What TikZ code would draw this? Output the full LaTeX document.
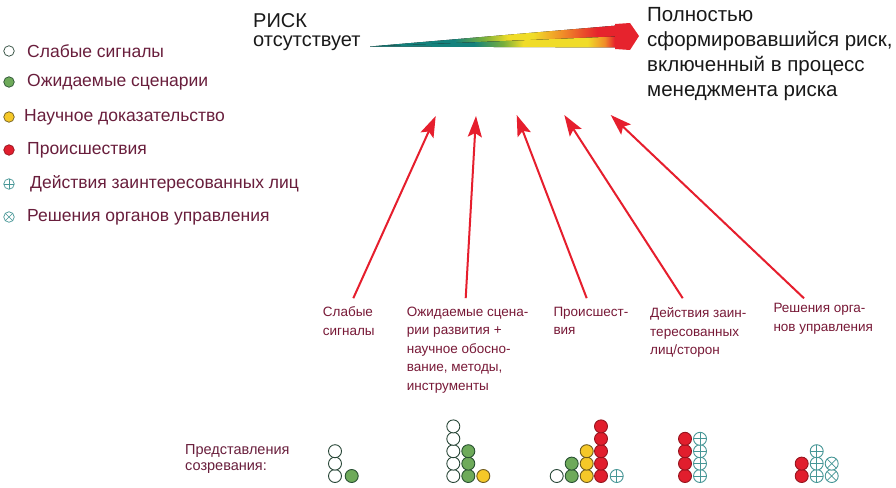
\documentclass[tikz,border=0pt]{standalone}
\usepackage{fontspec}
\setmainfont{Liberation Sans}
\usetikzlibrary{arrows.meta}

\definecolor{legtext}{RGB}{105,30,60}
\definecolor{labtext}{RGB}{120,25,55}
\definecolor{toptext}{RGB}{25,25,25}
\definecolor{riskred}{RGB}{230,30,45}
\definecolor{tealrim}{RGB}{70,150,150}
\definecolor{grnfill}{RGB}{110,170,90}
\definecolor{grnrim}{RGB}{40,80,50}
\definecolor{yelfill}{RGB}{245,200,40}
\definecolor{yelrim}{RGB}{110,90,30}
\definecolor{redfill}{RGB}{225,30,45}
\definecolor{redrim}{RGB}{150,20,30}
\definecolor{whtrim}{RGB}{40,70,55}
\definecolor{fteal}{RGB}{20,130,125}
\definecolor{fgreen}{RGB}{120,175,60}
\definecolor{fyellow}{RGB}{240,220,40}
\definecolor{forange}{RGB}{240,140,40}
\definecolor{fred}{RGB}{230,35,45}

\pgfdeclarehorizontalshading{riskfadetop}{100bp}{color(0bp)=(fteal); color(25bp)=(fteal); color(42bp)=(fteal); color(48bp)=(fgreen); color(53bp)=(fyellow); color(58bp)=(fyellow); color(64bp)=(forange); color(71bp)=(fred); color(75bp)=(fred); color(100bp)=(fred)}
\pgfdeclarehorizontalshading{riskfadelow}{100bp}{color(0bp)=(fteal); color(25bp)=(fteal); color(46bp)=(fteal); color(52bp)=(fgreen); color(56bp)=(fyellow); color(69bp)=(fyellow); color(72.5bp)=(forange); color(74.5bp)=(fred); color(100bp)=(fred)}

\begin{document}
\begin{tikzpicture}[
    x=1pt, y=-1pt,
    legtxt/.style={
        anchor=west,
        inner sep=0pt,
        text=legtext,
        font=\fontsize{17.5}{20}\selectfont
    },
    labtxt/.style={
        anchor=north west,
        inner sep=0pt,
        align=left,
        text=labtext,
        font=\fontsize{13.5}{18.5}\selectfont
    },
    dot/.style={
        circle,
        inner sep=0pt,
        minimum size=13pt,
        line width=0.9pt
    },
    wdot/.style={dot, draw=whtrim, fill=white},
    gdot/.style={dot, draw=grnrim, fill=grnfill},
    ydot/.style={dot, draw=yelrim, fill=yelfill},
    rdot/.style={dot, draw=redrim, fill=redfill},
    pdot/.style={
        dot, draw=tealrim, fill=white,
        path picture={
            \draw[tealrim, line width=0.7pt]
                (path picture bounding box.north) -- (path picture bounding box.south)
                (path picture bounding box.west) -- (path picture bounding box.east);
        }
    },
    xdot/.style={
        dot, draw=tealrim, fill=white,
        path picture={
            \draw[tealrim, line width=0.7pt]
                (path picture bounding box.north west) -- (path picture bounding box.south east)
                (path picture bounding box.north east) -- (path picture bounding box.south west);
        }
    },
    legdot/.style={minimum size=10.5pt, line width=0.7pt},
    feed/.style={
        draw=riskred,
        line width=2pt,
        -{Stealth[length=21pt, width=14pt, inset=4pt]}
    }
]

\fill[white] (0,0) rectangle (896,487);
\useasboundingbox (0,0) rectangle (896,487);

% Legend
\node[wdot, legdot] (leg_weak) at (9,51) {};
\node[legtxt] (leg_weak_t) at (27,51) {Слабые сигналы};
\node[gdot, legdot] (leg_scen) at (9,82) {};
\node[legtxt] (leg_scen_t) at (27,82) {Ожидаемые сценарии};
\node[ydot, legdot] (leg_sci) at (9,117) {};
\node[legtxt] (leg_sci_t) at (24,117) {Научное доказательство};
\node[rdot, legdot] (leg_inc) at (9,150) {};
\node[legtxt] (leg_inc_t) at (27,150) {Происшествия};
\node[pdot, legdot] (leg_act) at (9,184) {};
\node[legtxt] (leg_act_t) at (30,184) {Действия заинтересованных лиц};
\node[xdot, legdot] (leg_dec) at (9,217) {};
\node[legtxt] (leg_dec_t) at (27,217) {Решения органов управления};

% Risk maturity bar
\node[anchor=north west, inner sep=0pt, align=left, text=toptext,
      font=\fontsize{20}{18.5}\selectfont] (risk_none) at (253,13.8) {РИСК\\отсутствует};
\fill[shading=riskfadetop] (370,46.5) -- (617,25.5) -- (617,36.5) -- cycle;
\fill[shading=riskfadelow] (370,46.5) -- (617,36.5) -- (617,47.5) -- cycle;
\fill[fred] (615,24) -- (630,23) -- (639,36) -- (630,50) -- (615,49) -- cycle;
\node[anchor=north west, inner sep=0pt, align=left, text=toptext,
      font=\fontsize{20.5}{25}\selectfont] (risk_full) at (647,7) {Полностью\\сформировавшийся риск,\\включенный в процесс\\менеджмента риска};

% Input labels
\node[labtxt] (lab_weak) at (322.7,306.7) {Слабые\\сигналы};
\node[labtxt] (lab_scen) at (406.7,306.7) {Ожидаемые сцена-\\рии развития +\\научное обосно-\\вание, методы,\\инструменты};
\node[labtxt] (lab_inc) at (553.3,306.7) {Происшест-\\вия};
\node[labtxt] (lab_act) at (650,307.5) {Действия заин-\\тересованных\\лиц/сторон};
\node[labtxt] (lab_dec) at (773.3,303.3) {Решения орга-\\нов управления};

% Arrow targets on the bar
\coordinate (tip_weak) at (435.7,116);
\coordinate (tip_scen) at (476,116);
\coordinate (tip_inc) at (516.7,115);
\coordinate (tip_act) at (564.3,115);
\coordinate (tip_dec) at (610.7,115);

% Connections
\draw[feed] ([xshift=30.6pt, yshift=8.5pt]lab_weak.north west) -- (tip_weak);
\draw[feed] ([xshift=59pt, yshift=8.5pt]lab_scen.north west) -- (tip_scen);
\draw[feed] ([xshift=33.4pt, yshift=8.5pt]lab_inc.north west) -- (tip_inc);
\draw[feed] ([xshift=32.7pt, yshift=9.3pt]lab_act.north west) -- (tip_act);
\draw[feed] ([xshift=30.7pt, yshift=5pt]lab_dec.north west) -- (tip_dec);

% Maturity stacks
\node[anchor=north west, inner sep=0pt, align=left, text=legtext,
      font=\fontsize{14.5}{16.5}\selectfont] (lab_mat) at (185,444) {Представления\\созревания:};
\foreach \col/\sty/\n [count=\c] in {
    335/wdot/3, 351.7/gdot/1,
    453.3/wdot/5, 468.3/gdot/3, 483.3/ydot/1,
    556.7/wdot/1, 571.7/gdot/2, 586.7/ydot/3, 601/rdot/5, 616.7/pdot/1,
    685/rdot/4, 700/pdot/4,
    801.7/rdot/2, 816.7/pdot/3, 831.7/xdot/2} {
    \foreach \r in {1,...,\n}
        \node[\sty] (stk-\c-\r) at (\col,{488.4-12.4*\r}) {};
}

\end{tikzpicture}
\end{document}
